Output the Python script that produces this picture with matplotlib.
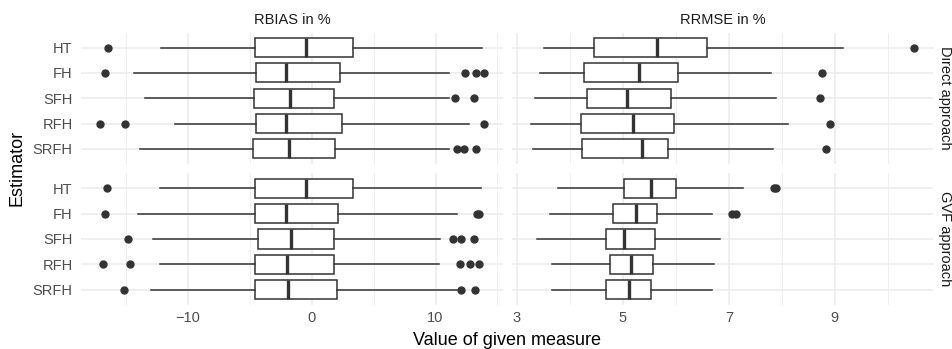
import matplotlib
matplotlib.use("Agg")
import matplotlib.pyplot as plt
import numpy as np

plt.rcParams['font.family'] = ['Liberation Sans', 'DejaVu Sans']

estimators = ["HT", "FH", "SFH", "RFH", "SRFH"]
measures = ["RBIAS in %", "RRMSE in %"]
approaches = ["Direct approach", "GVF approach"]

# Direct approach, RBIAS
direct_rbias_whislo = [-12.15, -14.3, -13.47, -11.05, -13.87]
direct_rbias_q1 = [-4.57, -4.49, -4.62, -4.49, -4.70]
direct_rbias_med = [-0.46, -2.04, -1.75, -2.07, -1.80]
direct_rbias_q3 = [3.36, 2.26, 1.80, 2.42, 1.85]
direct_rbias_whishi = [13.76, 11.07, 11.07, 12.69, 11.07]
direct_rbias_out = [[-16.4], [-16.7, 12.42, 13.23, 13.9], [11.55, 13.1],
                    [-17.07, -15.08, 13.9], [11.75, 12.28, 13.3]]

# GVF approach, RBIAS
gvf_rbias_whislo = [-12.23, -14.03, -12.82, -12.23, -12.98]
gvf_rbias_q1 = [-4.6, -4.6, -4.35, -4.6, -4.6]
gvf_rbias_med = [-0.48, -2.1, -1.64, -2.02, -1.91]
gvf_rbias_q3 = [3.31, 2.15, 1.80, 1.77, 2.04]
gvf_rbias_whishi = [13.71, 11.75, 10.35, 10.30, 11.75]
gvf_rbias_out = [[-16.5], [-16.67, 13.36, 13.55], [-14.86, 11.40, 12.04, 13.09],
                 [-16.83, -14.65, 11.96, 12.82, 13.49], [-15.14, 12.02, 13.17]]

# Direct approach, RRMSE
direct_rrmse_whislo = [3.52, 3.43, 3.34, 3.27, 3.31]
direct_rrmse_q1 = [4.46, 4.26, 4.32, 4.21, 4.23]
direct_rrmse_med = [5.64, 5.30, 5.07, 5.20, 5.36]
direct_rrmse_q3 = [6.58, 6.04, 5.91, 5.96, 5.86]
direct_rrmse_whishi = [9.15, 7.80, 7.88, 8.11, 7.83]
direct_rrmse_out = [[10.49], [8.76], [8.72], [8.91], [8.84]]

# GVF approach, RRMSE
gvf_rrmse_whislo = [3.77, 3.63, 3.38, 3.67, 3.67]
gvf_rrmse_q1 = [5.02, 4.82, 4.68, 4.75, 4.68]
gvf_rrmse_med = [5.53, 5.25, 5.02, 5.16, 5.11]
gvf_rrmse_q3 = [6.01, 5.64, 5.61, 5.57, 5.53]
gvf_rrmse_whishi = [7.26, 6.68, 6.84, 6.72, 6.69]
gvf_rrmse_out = [[7.86, 7.88], [7.06, 7.13], [], [], []]


def make_stats(whislo, q1, med, q3, whishi, out):
    return [dict(whislo=a, q1=b, med=c, q3=d, whishi=e, fliers=f, label=lab)
            for a, b, c, d, e, f, lab in zip(whislo, q1, med, q3, whishi, out, estimators)]


panels = {
    (0, 0): make_stats(direct_rbias_whislo, direct_rbias_q1, direct_rbias_med,
                       direct_rbias_q3, direct_rbias_whishi, direct_rbias_out),
    (1, 0): make_stats(gvf_rbias_whislo, gvf_rbias_q1, gvf_rbias_med,
                       gvf_rbias_q3, gvf_rbias_whishi, gvf_rbias_out),
    (0, 1): make_stats(direct_rrmse_whislo, direct_rrmse_q1, direct_rrmse_med,
                       direct_rrmse_q3, direct_rrmse_whishi, direct_rrmse_out),
    (1, 1): make_stats(gvf_rrmse_whislo, gvf_rrmse_q1, gvf_rrmse_med,
                       gvf_rrmse_q3, gvf_rrmse_whishi, gvf_rrmse_out),
}

# x limits per column (free scales, 5% expansion)
xlims = []
for col in range(2):
    vals = []
    for row in range(2):
        for s in panels[(row, col)]:
            vals += [s['whislo'], s['whishi']] + list(s['fliers'])
    lo, hi = min(vals), max(vals)
    rng = hi - lo
    xlims.append((lo - 0.05 * rng, hi + 0.05 * rng))

major_ticks = [[-10, 0, 10], [3, 5, 7, 9]]
minor_ticks = [[-15, -5, 5, 15], [4, 6, 8, 10]]

W, H = 953, 349
fig = plt.figure(figsize=(W / 100, H / 100), dpi=100)
col_px = [(81, 503), (512, 933)]
row_px = [(32.5, 164), (173, 305)]

dark = '#333333'
positions = np.arange(len(estimators), 0, -1)
fs_small = 10.5

for (row, col), stats in panels.items():
    x0, x1 = col_px[col]
    y0, y1 = row_px[row]
    ax = fig.add_axes([x0 / W, 1 - y1 / H, (x1 - x0) / W, (y1 - y0) / H])
    ax.bxp(stats, positions=positions, vert=False, widths=0.75, patch_artist=True,
           showcaps=False,
           boxprops=dict(facecolor='white', edgecolor=dark, linewidth=1.1),
           whiskerprops=dict(color=dark, linewidth=1.1),
           medianprops=dict(color=dark, linewidth=2.4, solid_capstyle='butt'),
           flierprops=dict(marker='o', markerfacecolor=dark, markeredgecolor=dark,
                           markersize=5),
           zorder=3)
    ax.set_xlim(*xlims[col])
    ax.set_ylim(0.4, len(estimators) + 0.6)
    ax.set_xticks(major_ticks[col])
    ax.set_xticks(minor_ticks[col], minor=True)
    ax.set_yticks(positions)
    ax.grid(True, which='major', color='#EBEBEB', linewidth=1.1, zorder=0)
    ax.grid(True, which='minor', axis='x', color='#EBEBEB', linewidth=0.55, zorder=0)
    ax.set_axisbelow(True)
    for sp in ax.spines.values():
        sp.set_visible(False)
    ax.tick_params(which='both', length=0, labelsize=fs_small, labelcolor='#4D4D4D')
    ax.tick_params(axis='y', pad=6)
    ax.tick_params(axis='x', pad=4)
    if col == 0:
        ax.set_yticklabels(estimators)
    else:
        ax.set_yticklabels([])
    if row == 0:
        ax.set_xticklabels([])
        ax.set_title(measures[col], fontsize=fs_small, color='#1A1A1A', pad=6)
    if col == 1:
        ax.text(1.0 + 12 / (x1 - x0), 0.5, approaches[row], transform=ax.transAxes,
                rotation=-90, ha='center', va='center', fontsize=fs_small, color='#1A1A1A')

fig.text(507 / W, 1 - 345 / H, "Value of given measure", ha='center', va='baseline', fontsize=13)
fig.text(17 / W, 1 - 168 / H, "Estimator", ha='center', va='center', rotation=90, fontsize=13)

fig.savefig("out.png", dpi=100)
